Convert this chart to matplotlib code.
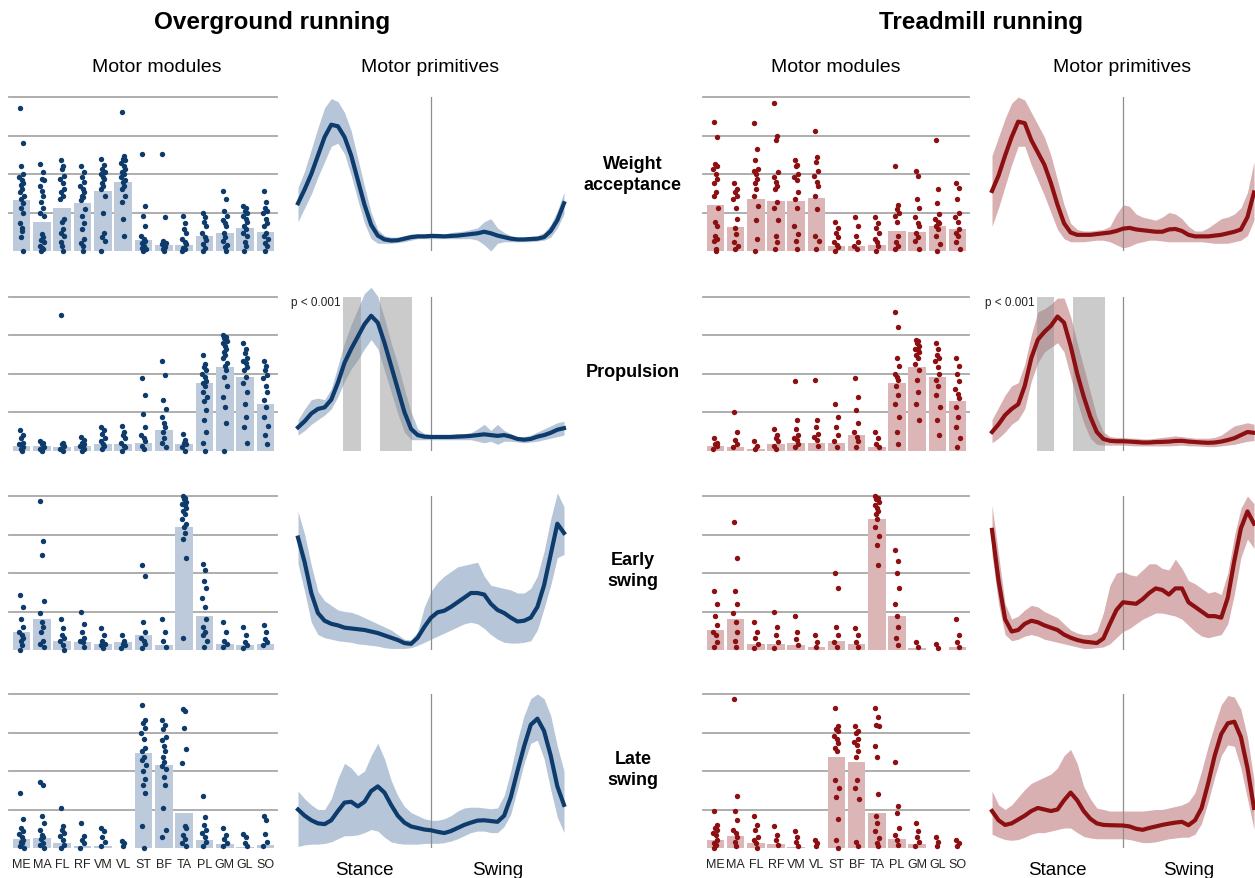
import numpy as np
import matplotlib.pyplot as plt

plt.rcParams['font.family'] = ['Liberation Sans', 'DejaVu Sans']

muscles = ['ME', 'MA', 'FL', 'RF', 'VM', 'VL', 'ST', 'BF', 'TA', 'PL', 'GM', 'GL', 'SO']
synergies = ['Weight\nacceptance', 'Propulsion', 'Early\nswing', 'Late\nswing']

# ---- motor modules: mean weights (bars) ----
og_bars_wa = [0.33, 0.19, 0.28, 0.31, 0.39, 0.45, 0.07, 0.04, 0.04, 0.095, 0.12, 0.15, 0.125]
og_bars_pr = [0.03, 0.03, 0.02, 0.03, 0.04, 0.04, 0.05, 0.13, 0.04, 0.44, 0.54, 0.48, 0.30]
og_bars_es = [0.12, 0.20, 0.06, 0.05, 0.04, 0.05, 0.10, 0.03, 0.80, 0.22, 0.04, 0.03, 0.04]
og_bars_ls = [0.056, 0.068, 0.035, 0.013, 0.013, 0.0, 0.615, 0.54, 0.225, 0.052, 0.026, 0.009, 0.02]

tm_bars_wa = [0.30, 0.158, 0.338, 0.327, 0.323, 0.346, 0.035, 0.03, 0.039, 0.132, 0.121, 0.165, 0.143]
tm_bars_pr = [0.03, 0.02, 0.01, 0.04, 0.05, 0.05, 0.05, 0.10, 0.02, 0.44, 0.54, 0.48, 0.32]
tm_bars_es = [0.13, 0.20, 0.04, 0.04, 0.03, 0.02, 0.06, 0.04, 0.85, 0.22, 0.01, 0.0, 0.02]
tm_bars_ls = [0.052, 0.078, 0.03, 0.024, 0.009, 0.0, 0.59, 0.56, 0.225, 0.056, 0.024, 0.003, 0.0]

# ---- motor modules: individual weights (dots), one list per muscle ----
og_dots_wa = [
    [0.93, 0.70, 0.55, 0.50, 0.48, 0.46, 0.44, 0.43, 0.40, 0.38, 0.36, 0.34, 0.31, 0.28, 0.25, 0.18, 0.15, 0.13, 0.09, 0.0],
    [0.565, 0.51, 0.47, 0.46, 0.42, 0.39, 0.36, 0.32, 0.28, 0.25, 0.23, 0.11, 0.09, 0.07, 0.06, 0.035, 0.02, 0.01, 0.0],
    [0.59, 0.55, 0.53, 0.49, 0.47, 0.44, 0.40, 0.38, 0.36, 0.34, 0.21, 0.19, 0.14, 0.12, 0.10, 0.06, 0.03, 0.0],
    [0.55, 0.51, 0.48, 0.45, 0.42, 0.40, 0.38, 0.36, 0.35, 0.33, 0.27, 0.23, 0.18, 0.14, 0.08, 0.05, 0.035, 0.0],
    [0.60, 0.56, 0.53, 0.51, 0.50, 0.48, 0.47, 0.44, 0.42, 0.40, 0.36, 0.25, 0.12, 0.09, 0.067, 0.0],
    [0.90, 0.62, 0.60, 0.59, 0.57, 0.55, 0.53, 0.51, 0.50, 0.48, 0.46, 0.45, 0.42, 0.40, 0.36, 0.32, 0.21, 0.10],
    [0.63, 0.29, 0.23, 0.16, 0.10, 0.08, 0.067, 0.05, 0.035, 0.02, 0.01, 0.0],
    [0.63, 0.22, 0.067, 0.05, 0.046, 0.03, 0.024, 0.01, 0.0],
    [0.23, 0.18, 0.14, 0.12, 0.08, 0.06, 0.046, 0.02, 0.01, 0.0],
    [0.25, 0.22, 0.19, 0.16, 0.12, 0.09, 0.07, 0.046, 0.02, 0.0],
    [0.39, 0.34, 0.26, 0.23, 0.20, 0.18, 0.16, 0.12, 0.09, 0.067, 0.04, 0.024, 0.0],
    [0.29, 0.28, 0.26, 0.25, 0.23, 0.21, 0.19, 0.16, 0.14, 0.12, 0.10, 0.06, 0.03, 0.0],
    [0.39, 0.32, 0.28, 0.26, 0.25, 0.21, 0.18, 0.16, 0.12, 0.10, 0.08, 0.05, 0.035, 0.0],
]
og_dots_pr = [
    [0.13, 0.10, 0.08, 0.05, 0.04, 0.03, 0.02, 0.01, 0.0],
    [0.06, 0.05, 0.04, 0.02, 0.01, 0.0],
    [0.88, 0.05, 0.04, 0.03, 0.01, 0.0],
    [0.09, 0.07, 0.05, 0.04, 0.03, 0.02, 0.01, 0.0],
    [0.15, 0.13, 0.11, 0.08, 0.06, 0.04, 0.03, 0.01],
    [0.16, 0.12, 0.10, 0.08, 0.05, 0.03, 0.02, 0.0],
    [0.47, 0.36, 0.24, 0.15, 0.10, 0.08, 0.06, 0.03, 0.01],
    [0.58, 0.49, 0.33, 0.27, 0.22, 0.18, 0.15, 0.12, 0.08, 0.05, 0.02],
    [0.11, 0.07, 0.05, 0.04, 0.02, 0.0],
    [0.62, 0.56, 0.54, 0.52, 0.50, 0.48, 0.45, 0.44, 0.42, 0.38, 0.35, 0.32, 0.26, 0.20, 0.12, 0.05, 0.0],
    [0.75, 0.74, 0.73, 0.71, 0.70, 0.68, 0.66, 0.64, 0.62, 0.60, 0.57, 0.55, 0.52, 0.48, 0.42, 0.35, 0.28, 0.18, 0.0],
    [0.70, 0.66, 0.63, 0.60, 0.58, 0.57, 0.54, 0.52, 0.48, 0.44, 0.38, 0.30, 0.22, 0.15, 0.05],
    [0.58, 0.55, 0.52, 0.49, 0.47, 0.42, 0.38, 0.33, 0.28, 0.22, 0.16, 0.10, 0.04],
]
og_dots_es = [
    [0.36, 0.28, 0.20, 0.15, 0.12, 0.10, 0.08, 0.06, 0.03, 0.0],
    [0.97, 0.71, 0.62, 0.32, 0.24, 0.18, 0.15, 0.12, 0.06, 0.04, 0.02],
    [0.20, 0.14, 0.10, 0.08, 0.06, 0.03, 0.0],
    [0.25, 0.17, 0.12, 0.08, 0.06, 0.05, 0.02],
    [0.14, 0.10, 0.06, 0.04, 0.03, 0.01],
    [0.10, 0.06, 0.04, 0.03, 0.01],
    [0.55, 0.48, 0.18, 0.12, 0.08, 0.06, 0.04, 0.01],
    [0.20, 0.12, 0.06, 0.02],
    [1.0, 0.99, 0.98, 0.96, 0.95, 0.94, 0.92, 0.90, 0.88, 0.85, 0.82, 0.80, 0.76, 0.72, 0.60, 0.08],
    [0.56, 0.52, 0.45, 0.40, 0.34, 0.28, 0.20, 0.15, 0.12, 0.10, 0.06, 0.02],
    [0.18, 0.12, 0.06, 0.04, 0.02],
    [0.15, 0.10, 0.05, 0.03, 0.01],
    [0.16, 0.12, 0.07, 0.05, 0.03],
]
og_dots_ls = [
    [0.36, 0.19, 0.13, 0.11, 0.09, 0.074, 0.05, 0.04, 0.03, 0.01, 0.0],
    [0.43, 0.41, 0.21, 0.16, 0.12, 0.085, 0.07, 0.06, 0.03, 0.02, 0.0],
    [0.26, 0.14, 0.12, 0.10, 0.08, 0.05, 0.02, 0.0],
    [0.16, 0.08, 0.05, 0.03, 0.0],
    [0.13, 0.11, 0.074, 0.04, 0.013],
    [0.048, 0.03, 0.01],
    [0.93, 0.83, 0.81, 0.78, 0.745, 0.71, 0.65, 0.63, 0.59, 0.57, 0.54, 0.50, 0.45, 0.41, 0.36, 0.14, 0.0],
    [0.83, 0.80, 0.77, 0.72, 0.70, 0.66, 0.63, 0.59, 0.56, 0.53, 0.51, 0.46, 0.41, 0.26, 0.12, 0.074],
    [0.90, 0.89, 0.78, 0.64, 0.55, 0.14, 0.13, 0.085, 0.06, 0.03, 0.01],
    [0.34, 0.20, 0.15, 0.12, 0.095, 0.07, 0.04, 0.013],
    [0.13, 0.085, 0.06, 0.03, 0.01],
    [0.09, 0.07, 0.035, 0.01],
    [0.21, 0.18, 0.09, 0.04, 0.013],
]

tm_dots_wa = [
    [0.84, 0.74, 0.565, 0.55, 0.53, 0.50, 0.47, 0.44, 0.38, 0.36, 0.28, 0.19, 0.16, 0.10, 0.08, 0.067, 0.013, 0.0],
    [0.44, 0.40, 0.38, 0.36, 0.34, 0.28, 0.21, 0.15, 0.11, 0.06, 0.03, 0.013],
    [0.83, 0.66, 0.59, 0.53, 0.52, 0.50, 0.47, 0.44, 0.40, 0.36, 0.29, 0.20, 0.08, 0.002],
    [0.96, 0.75, 0.72, 0.51, 0.48, 0.45, 0.42, 0.40, 0.32, 0.28, 0.20, 0.10, 0.06, 0.013],
    [0.59, 0.56, 0.55, 0.50, 0.48, 0.46, 0.38, 0.34, 0.28, 0.16, 0.11, 0.067, 0.013],
    [0.78, 0.61, 0.58, 0.52, 0.49, 0.45, 0.42, 0.36, 0.27, 0.10, 0.067, 0.013],
    [0.19, 0.15, 0.12, 0.09, 0.06, 0.04, 0.024, 0.002],
    [0.22, 0.16, 0.10, 0.06, 0.03, 0.013],
    [0.22, 0.18, 0.15, 0.12, 0.08, 0.06, 0.035, 0.002],
    [0.55, 0.30, 0.27, 0.25, 0.23, 0.19, 0.10, 0.06, 0.03, 0.013],
    [0.52, 0.49, 0.34, 0.28, 0.22, 0.18, 0.16, 0.12, 0.09, 0.067, 0.013],
    [0.72, 0.40, 0.31, 0.24, 0.21, 0.19, 0.18, 0.16, 0.14, 0.10, 0.046, 0.002],
    [0.44, 0.41, 0.34, 0.25, 0.22, 0.19, 0.14, 0.12, 0.10, 0.06, 0.013],
]
tm_dots_pr = [
    [0.08, 0.05, 0.04, 0.03, 0.01],
    [0.25, 0.12, 0.07, 0.04, 0.02],
    [0.06, 0.03, 0.01],
    [0.14, 0.10, 0.08, 0.06, 0.03, 0.01],
    [0.45, 0.20, 0.14, 0.10, 0.08, 0.07, 0.04, 0.02],
    [0.46, 0.20, 0.15, 0.11, 0.09, 0.07, 0.03],
    [0.30, 0.22, 0.15, 0.10, 0.06, 0.02],
    [0.47, 0.35, 0.26, 0.18, 0.12, 0.09, 0.06, 0.02],
    [0.12, 0.08, 0.04, 0.02],
    [0.90, 0.80, 0.60, 0.55, 0.50, 0.48, 0.46, 0.42, 0.36, 0.30, 0.22, 0.12, 0.04],
    [0.72, 0.71, 0.70, 0.68, 0.66, 0.65, 0.64, 0.62, 0.60, 0.56, 0.52, 0.46, 0.38, 0.30, 0.20],
    [0.70, 0.66, 0.62, 0.60, 0.58, 0.54, 0.50, 0.46, 0.42, 0.36, 0.28, 0.20, 0.10],
    [0.60, 0.55, 0.50, 0.45, 0.40, 0.37, 0.34, 0.28, 0.22, 0.15, 0.08, 0.02],
]
tm_dots_es = [
    [0.38, 0.30, 0.22, 0.16, 0.12, 0.10, 0.05, 0.02],
    [0.83, 0.60, 0.38, 0.30, 0.24, 0.18, 0.12, 0.06, 0.02],
    [0.18, 0.12, 0.08, 0.04, 0.01],
    [0.25, 0.15, 0.10, 0.05, 0.01],
    [0.22, 0.12, 0.07, 0.03],
    [0.10, 0.05, 0.02],
    [0.50, 0.40, 0.15, 0.10, 0.05, 0.02],
    [0.14, 0.10, 0.05, 0.02],
    [1.0, 0.99, 0.98, 0.96, 0.94, 0.92, 0.90, 0.88, 0.85, 0.80, 0.74, 0.68, 0.55],
    [0.65, 0.58, 0.50, 0.40, 0.30, 0.22, 0.15, 0.08, 0.03],
    [0.05, 0.02],
    [0.04, 0.01],
    [0.20, 0.10, 0.05, 0.02],
]
tm_dots_ls = [
    [0.24, 0.15, 0.13, 0.12, 0.10, 0.085, 0.05, 0.03, 0.02, 0.0],
    [0.97, 0.34, 0.24, 0.18, 0.12, 0.10, 0.074, 0.04, 0.01],
    [0.21, 0.15, 0.12, 0.074, 0.05, 0.03, 0.0],
    [0.14, 0.085, 0.05, 0.02],
    [0.11, 0.074, 0.04, 0.01],
    [0.05, 0.03, 0.01],
    [0.91, 0.79, 0.77, 0.76, 0.73, 0.71, 0.68, 0.65, 0.63, 0.44, 0.39, 0.33, 0.19, 0.05, 0.0],
    [0.79, 0.76, 0.745, 0.71, 0.69, 0.67, 0.63, 0.59, 0.44, 0.39, 0.32, 0.04, 0.01],
    [0.91, 0.85, 0.80, 0.79, 0.66, 0.59, 0.35, 0.21, 0.16, 0.11, 0.063, 0.03, 0.01],
    [0.56, 0.27, 0.23, 0.13, 0.085, 0.05, 0.02],
    [0.16, 0.11, 0.074, 0.04, 0.01],
    [0.074, 0.04, 0.01],
    [0.05, 0.03, 0.01],
]

# ---- motor primitives: time-normalised cycle, 0-100 stance, 100-200 swing ----
t = np.arange(0, 201, 5)

og_mean_wa = [0.31, 0.40, 0.50, 0.62, 0.74, 0.82, 0.81, 0.74, 0.62, 0.46, 0.30, 0.17, 0.10, 0.075, 0.068, 0.07, 0.08, 0.09, 0.095, 0.095, 0.098,
              0.097, 0.095, 0.098, 0.10, 0.105, 0.11, 0.115, 0.125, 0.115, 0.10, 0.09, 0.08, 0.075, 0.075, 0.078, 0.08, 0.09, 0.13, 0.20, 0.31]
og_hi_wa = [0.41, 0.52, 0.66, 0.80, 0.93, 0.99, 0.97, 0.90, 0.78, 0.60, 0.42, 0.25, 0.14, 0.10, 0.09, 0.09, 0.10, 0.11, 0.11, 0.11, 0.115,
            0.115, 0.11, 0.12, 0.125, 0.13, 0.14, 0.15, 0.19, 0.21, 0.15, 0.12, 0.10, 0.09, 0.09, 0.095, 0.10, 0.12, 0.17, 0.26, 0.38]
og_lo_wa = [0.19, 0.28, 0.37, 0.48, 0.58, 0.68, 0.70, 0.63, 0.49, 0.33, 0.18, 0.08, 0.05, 0.05, 0.05, 0.055, 0.06, 0.07, 0.08, 0.08, 0.08,
            0.08, 0.08, 0.08, 0.08, 0.08, 0.08, 0.07, 0.04, 0.0, 0.05, 0.06, 0.06, 0.06, 0.06, 0.06, 0.065, 0.07, 0.09, 0.15, 0.24]

og_mean_pr = [0.15, 0.19, 0.24, 0.27, 0.28, 0.33, 0.44, 0.57, 0.66, 0.74, 0.82, 0.875, 0.83, 0.70, 0.55, 0.40, 0.25, 0.14, 0.10, 0.09, 0.088,
              0.088, 0.088, 0.088, 0.09, 0.092, 0.095, 0.10, 0.105, 0.10, 0.095, 0.10, 0.09, 0.075, 0.07, 0.075, 0.09, 0.10, 0.115, 0.135, 0.145]
og_hi_pr = [0.20, 0.27, 0.33, 0.34, 0.33, 0.40, 0.55, 0.70, 0.82, 0.92, 1.02, 1.06, 1.0, 0.86, 0.70, 0.56, 0.40, 0.25, 0.14, 0.11, 0.10,
            0.10, 0.10, 0.105, 0.11, 0.11, 0.115, 0.14, 0.17, 0.13, 0.17, 0.13, 0.11, 0.09, 0.09, 0.10, 0.12, 0.14, 0.16, 0.18, 0.19]
og_lo_pr = [0.10, 0.13, 0.17, 0.20, 0.23, 0.27, 0.35, 0.45, 0.53, 0.59, 0.66, 0.72, 0.66, 0.52, 0.38, 0.24, 0.12, 0.07, 0.07, 0.07, 0.07,
            0.07, 0.07, 0.07, 0.07, 0.07, 0.07, 0.06, 0.05, 0.06, 0.04, 0.06, 0.06, 0.055, 0.05, 0.055, 0.06, 0.07, 0.08, 0.09, 0.10]

og_mean_es = [0.73, 0.57, 0.37, 0.24, 0.19, 0.17, 0.16, 0.145, 0.14, 0.135, 0.13, 0.12, 0.11, 0.095, 0.08, 0.065, 0.045, 0.04, 0.08, 0.15, 0.21,
              0.245, 0.255, 0.28, 0.31, 0.34, 0.37, 0.37, 0.36, 0.30, 0.26, 0.24, 0.21, 0.185, 0.19, 0.21, 0.28, 0.42, 0.62, 0.82, 0.76]
og_hi_es = [0.90, 0.75, 0.55, 0.38, 0.32, 0.29, 0.26, 0.25, 0.245, 0.23, 0.21, 0.19, 0.17, 0.15, 0.13, 0.10, 0.07, 0.065, 0.12, 0.28, 0.38,
            0.44, 0.48, 0.51, 0.54, 0.55, 0.56, 0.57, 0.48, 0.42, 0.41, 0.40, 0.39, 0.37, 0.37, 0.40, 0.48, 0.64, 0.85, 1.02, 0.93]
og_lo_es = [0.56, 0.38, 0.18, 0.10, 0.08, 0.07, 0.06, 0.055, 0.05, 0.04, 0.035, 0.03, 0.025, 0.015, 0.01, 0.01, 0.01, 0.015, 0.03, 0.05, 0.07,
            0.09, 0.11, 0.13, 0.15, 0.17, 0.18, 0.17, 0.14, 0.10, 0.07, 0.05, 0.045, 0.045, 0.05, 0.06, 0.13, 0.27, 0.42, 0.60, 0.62]

og_mean_ls = [0.25, 0.21, 0.18, 0.16, 0.155, 0.18, 0.24, 0.295, 0.30, 0.27, 0.30, 0.37, 0.40, 0.36, 0.28, 0.21, 0.165, 0.14, 0.13, 0.12, 0.115,
              0.105, 0.097, 0.11, 0.13, 0.15, 0.165, 0.178, 0.18, 0.175, 0.17, 0.21, 0.33, 0.50, 0.66, 0.80, 0.84, 0.76, 0.60, 0.40, 0.28]
og_hi_ls = [0.37, 0.32, 0.28, 0.25, 0.25, 0.32, 0.45, 0.55, 0.52, 0.47, 0.50, 0.60, 0.68, 0.58, 0.44, 0.34, 0.27, 0.23, 0.21, 0.19, 0.18,
            0.18, 0.19, 0.21, 0.24, 0.26, 0.265, 0.265, 0.26, 0.255, 0.26, 0.34, 0.50, 0.70, 0.86, 0.97, 1.0, 0.97, 0.86, 0.66, 0.50]
og_lo_ls = [0.01, 0.02, 0.025, 0.025, 0.03, 0.04, 0.06, 0.08, 0.08, 0.085, 0.10, 0.12, 0.11, 0.07, 0.04, 0.03, 0.025, 0.025, 0.025, 0.03, 0.03,
            0.03, 0.035, 0.045, 0.06, 0.08, 0.10, 0.11, 0.11, 0.10, 0.10, 0.14, 0.22, 0.38, 0.55, 0.68, 0.70, 0.58, 0.38, 0.20, 0.10]

tm_mean_wa = [0.39, 0.49, 0.62, 0.74, 0.84, 0.83, 0.72, 0.64, 0.56, 0.44, 0.30, 0.18, 0.12, 0.105, 0.105, 0.105, 0.11, 0.115, 0.12, 0.13, 0.145,
              0.15, 0.14, 0.135, 0.13, 0.125, 0.125, 0.14, 0.143, 0.13, 0.105, 0.095, 0.095, 0.095, 0.10, 0.105, 0.115, 0.125, 0.14, 0.22, 0.38]
tm_hi_wa = [0.62, 0.74, 0.86, 0.96, 1.0, 0.98, 0.90, 0.82, 0.74, 0.62, 0.46, 0.30, 0.18, 0.14, 0.13, 0.13, 0.135, 0.14, 0.16, 0.24, 0.30,
            0.29, 0.24, 0.22, 0.21, 0.20, 0.22, 0.25, 0.24, 0.21, 0.16, 0.13, 0.13, 0.15, 0.18, 0.21, 0.22, 0.24, 0.28, 0.38, 0.58]
tm_lo_wa = [0.16, 0.28, 0.42, 0.56, 0.68, 0.68, 0.56, 0.46, 0.36, 0.25, 0.14, 0.08, 0.06, 0.06, 0.06, 0.065, 0.07, 0.07, 0.06, 0.04, 0.02,
            0.03, 0.05, 0.06, 0.07, 0.07, 0.065, 0.06, 0.06, 0.06, 0.06, 0.06, 0.06, 0.055, 0.05, 0.05, 0.05, 0.06, 0.07, 0.10, 0.20]

tm_mean_pr = [0.12, 0.17, 0.23, 0.27, 0.30, 0.42, 0.60, 0.72, 0.77, 0.81, 0.87, 0.83, 0.68, 0.50, 0.35, 0.22, 0.12, 0.075, 0.063, 0.06, 0.06,
              0.058, 0.055, 0.052, 0.052, 0.055, 0.056, 0.058, 0.062, 0.063, 0.058, 0.055, 0.052, 0.05, 0.052, 0.058, 0.068, 0.08, 0.10, 0.12, 0.115]
tm_hi_pr = [0.20, 0.28, 0.36, 0.42, 0.44, 0.56, 0.75, 0.90, 0.92, 0.95, 0.99, 0.99, 0.87, 0.70, 0.54, 0.38, 0.22, 0.12, 0.09, 0.085, 0.085,
            0.08, 0.08, 0.075, 0.075, 0.08, 0.085, 0.09, 0.095, 0.09, 0.085, 0.08, 0.08, 0.08, 0.085, 0.10, 0.13, 0.16, 0.17, 0.18, 0.17]
tm_lo_pr = [0.05, 0.08, 0.12, 0.17, 0.20, 0.27, 0.45, 0.57, 0.64, 0.67, 0.70, 0.64, 0.48, 0.32, 0.18, 0.08, 0.04, 0.035, 0.035, 0.035, 0.035,
            0.032, 0.03, 0.03, 0.03, 0.03, 0.03, 0.03, 0.032, 0.035, 0.03, 0.03, 0.028, 0.025, 0.025, 0.03, 0.035, 0.04, 0.05, 0.06, 0.065]

tm_mean_es = [0.78, 0.45, 0.20, 0.12, 0.13, 0.17, 0.19, 0.18, 0.16, 0.145, 0.13, 0.10, 0.08, 0.065, 0.055, 0.05, 0.045, 0.075, 0.17, 0.26, 0.31,
              0.305, 0.30, 0.33, 0.37, 0.40, 0.39, 0.36, 0.40, 0.40, 0.31, 0.28, 0.25, 0.22, 0.22, 0.21, 0.34, 0.58, 0.79, 0.90, 0.82]
tm_hi_es = [0.94, 0.62, 0.30, 0.20, 0.22, 0.26, 0.29, 0.28, 0.25, 0.23, 0.21, 0.17, 0.13, 0.11, 0.10, 0.10, 0.12, 0.24, 0.42, 0.50, 0.51,
            0.49, 0.48, 0.52, 0.56, 0.56, 0.53, 0.52, 0.59, 0.53, 0.45, 0.43, 0.40, 0.37, 0.38, 0.36, 0.50, 0.74, 0.92, 1.0, 0.95]
tm_lo_es = [0.62, 0.30, 0.10, 0.06, 0.07, 0.09, 0.10, 0.09, 0.07, 0.06, 0.05, 0.04, 0.03, 0.02, 0.01, 0.01, 0.015, 0.02, 0.04, 0.08, 0.12,
            0.14, 0.17, 0.20, 0.22, 0.24, 0.24, 0.23, 0.22, 0.20, 0.16, 0.12, 0.09, 0.08, 0.09, 0.10, 0.17, 0.36, 0.60, 0.72, 0.66]

tm_mean_ls = [0.24, 0.18, 0.15, 0.16, 0.185, 0.21, 0.24, 0.26, 0.25, 0.24, 0.25, 0.31, 0.36, 0.31, 0.24, 0.19, 0.16, 0.15, 0.148, 0.147, 0.146,
              0.14, 0.125, 0.118, 0.13, 0.14, 0.15, 0.158, 0.165, 0.17, 0.148, 0.18, 0.26, 0.42, 0.60, 0.74, 0.81, 0.82, 0.72, 0.52, 0.26]
tm_hi_ls = [0.37, 0.28, 0.25, 0.28, 0.33, 0.38, 0.42, 0.44, 0.46, 0.48, 0.52, 0.60, 0.64, 0.55, 0.40, 0.32, 0.26, 0.25, 0.24, 0.24, 0.24,
            0.24, 0.24, 0.24, 0.245, 0.25, 0.25, 0.26, 0.27, 0.28, 0.30, 0.36, 0.50, 0.66, 0.80, 0.93, 0.99, 0.98, 0.90, 0.72, 0.44]
tm_lo_ls = [0.09, 0.07, 0.055, 0.05, 0.055, 0.07, 0.09, 0.10, 0.10, 0.11, 0.12, 0.13, 0.13, 0.10, 0.075, 0.065, 0.06, 0.06, 0.06, 0.06, 0.06,
            0.055, 0.045, 0.035, 0.035, 0.04, 0.05, 0.06, 0.065, 0.07, 0.07, 0.09, 0.16, 0.30, 0.46, 0.60, 0.67, 0.66, 0.52, 0.32, 0.12]

# phases where the propulsion primitives differ (p < 0.001)
sig_spans = [(34, 47), (62, 86)]

og_bars = [og_bars_wa, og_bars_pr, og_bars_es, og_bars_ls]
og_dots = [og_dots_wa, og_dots_pr, og_dots_es, og_dots_ls]
og_prims = [(og_mean_wa, og_lo_wa, og_hi_wa), (og_mean_pr, og_lo_pr, og_hi_pr),
            (og_mean_es, og_lo_es, og_hi_es), (og_mean_ls, og_lo_ls, og_hi_ls)]
tm_bars = [tm_bars_wa, tm_bars_pr, tm_bars_es, tm_bars_ls]
tm_dots = [tm_dots_wa, tm_dots_pr, tm_dots_es, tm_dots_ls]
tm_prims = [(tm_mean_wa, tm_lo_wa, tm_hi_wa), (tm_mean_pr, tm_lo_pr, tm_hi_pr),
            (tm_mean_es, tm_lo_es, tm_hi_es), (tm_mean_ls, tm_lo_ls, tm_hi_ls)]

OG_DARK, OG_BAR, OG_BAND = '#0d3b6c', '#bccadb', '#b6c6d8'
TM_DARK, TM_BAR, TM_BAND = '#8c0f12', '#dcb5b6', '#d9b0b1'
GRID = '#a8a8a8'

W, H = 1255, 879
fig = plt.figure(figsize=(W / 100, H / 100), dpi=100)


def px_axes(x, y, w, h):
    return fig.add_axes([x / W, 1 - (y + h) / H, w / W, h / H])


# fixed horizontal spread for the dots inside each bar
spread = np.array([-0.08, 0.05, -0.02, 0.09, -0.11, 0.02, 0.07, -0.05, 0.03, -0.09,
                   0.11, -0.01, 0.06, -0.04, 0.09, -0.07, 0.01, 0.04, -0.03, 0.08])


def draw_modules(ax, bars, dots, dark, light, show_labels):
    x = np.arange(len(muscles))
    for g in (0.25, 0.5, 0.75, 1.0):
        ax.axhline(g, color=GRID, lw=1.3, zorder=0, clip_on=False)
    ax.bar(x, bars, width=0.87, color=light, lw=0, zorder=1)
    for i, d in enumerate(dots):
        ax.scatter(i + spread[:len(d)], d, s=15, color=dark, lw=0, zorder=2, clip_on=False)
    ax.set_xlim(-0.62, 12.57)
    ax.set_ylim(0, 1)
    for s in ax.spines.values():
        s.set_visible(False)
    ax.set_yticks([])
    ax.set_xticks(x)
    ax.tick_params(axis='x', length=0, pad=7)
    if show_labels:
        ax.set_xticklabels(muscles, fontsize=9, color='#222222')
    else:
        ax.set_xticklabels([])


def draw_primitive(ax, prim, dark, band, sig, show_phase):
    mean, lo, hi = prim
    ax.fill_between(t, lo, hi, color=band, lw=0, zorder=1, clip_on=False)
    ax.axvline(100, color='#8e8e8e', lw=0.9, zorder=2)
    if sig:
        for a, b in sig_spans:
            ax.axvspan(a, b, color='#8c8c8c', alpha=0.45, lw=0, zorder=3)
        ax.text(-5.3, 0.965, 'p < 0.001', ha='left', va='center', fontsize=8.5, color='#222222')
    ax.plot(t, mean, color=dark, lw=3.0, zorder=4, clip_on=False, solid_joinstyle='round')
    ax.set_xlim(0, 200)
    ax.set_ylim(0, 1)
    ax.axis('off')
    if show_phase:
        ax.text(50, -0.14, 'Stance', ha='center', va='center', fontsize=13.5)
        ax.text(150, -0.14, 'Swing', ha='center', va='center', fontsize=13.5)


row_top = [98, 297.5, 497, 695]
for r in range(4):
    y0 = row_top[r]
    last = r == 3
    ax = px_axes(9, y0, 268, 154)
    draw_modules(ax, og_bars[r], og_dots[r], OG_DARK, OG_BAR, last)
    ax = px_axes(703, y0, 266, 154)
    draw_modules(ax, tm_bars[r], tm_dots[r], TM_DARK, TM_BAR, last)
    ax = px_axes(298, y0, 266, 154)
    draw_primitive(ax, og_prims[r], OG_DARK, OG_BAND, r == 1, last)
    ax = px_axes(992, y0, 262, 154)
    draw_primitive(ax, tm_prims[r], TM_DARK, TM_BAND, r == 1, last)

# headings
fig.text(272 / W, 1 - 22 / H, 'Overground running', ha='center', va='center', fontsize=17.5, fontweight='bold')
fig.text(981 / W, 1 - 22 / H, 'Treadmill running', ha='center', va='center', fontsize=17.5, fontweight='bold')
for xc, lab in [(157, 'Motor modules'), (430, 'Motor primitives'),
                (836, 'Motor modules'), (1122, 'Motor primitives')]:
    fig.text(xc / W, 1 - 68 / H, lab, ha='center', va='center', fontsize=14)
for yc, lab in zip([175, 373, 571, 770], synergies):
    fig.text(633 / W, 1 - yc / H, lab, ha='center', va='center', fontsize=13,
             fontweight='bold', linespacing=1.35)

fig.savefig('out.png', dpi=100)
